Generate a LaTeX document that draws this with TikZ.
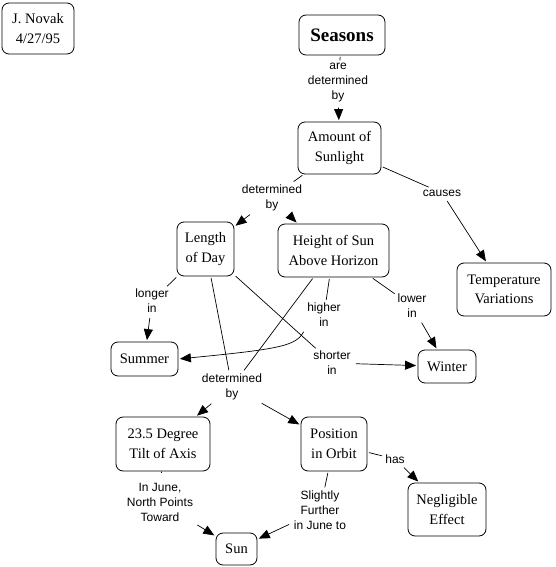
\documentclass[tikz,border=0pt]{standalone}
\usepackage{fontspec}
\setmainfont{Liberation Serif}
\newfontfamily\labfont{Liberation Sans}
\usetikzlibrary{arrows.meta}
\begin{document}
\begin{tikzpicture}[x=1pt,y=-1pt,
 concept/.style={draw, rounded corners=7pt, line width=0.8pt, align=center, inner sep=0pt, font=\fontsize{14.5}{19.5}\selectfont},
 lab/.style={align=center, inner sep=2pt, font=\labfont\fontsize{12}{15}\selectfont},
 link/.style={line width=0.7pt, shorten <=1.5pt, shorten >=1pt},
 arr/.style={line width=0.7pt, -{Triangle[length=11pt,width=9pt]}, shorten <=3pt, shorten >=1.5pt}]
\useasboundingbox (0,0) rectangle (556,567);
% concepts
\node[concept, minimum width=72pt, minimum height=51pt] (novak) at (38,28.5) {J. Novak\\4/27/95};
\node[concept, minimum width=86pt, minimum height=40pt, font=\fontsize{19}{22}\selectfont\bfseries] (seasons) at (342,35) {Seasons};
\node[concept, minimum width=83pt, minimum height=52pt] (amount) at (339.5,148) {Amount of\\Sunlight};
\node[concept, minimum width=57pt, minimum height=54pt] (length) at (205.5,249) {Length\\of Day};
\node[concept, minimum width=111pt, minimum height=53pt] (height) at (333.5,250.5) {Height of Sun\\Above Horizon};
\node[concept, minimum width=94pt, minimum height=53pt] (temp) at (504,289.5) {Temperature\\Variations};
\node[concept, minimum width=67pt, minimum height=34pt] (summer) at (144.5,359) {Summer};
\node[concept, minimum width=58pt, minimum height=33pt] (winter) at (447,366.5) {Winter};
\node[concept, minimum width=94pt, minimum height=54pt] (tilt) at (163,444) {23.5 Degree\\Tilt of Axis};
\node[concept, minimum width=66pt, minimum height=54pt] (orbit) at (334,444) {Position\\in Orbit};
\node[concept, minimum width=78pt, minimum height=53pt] (negl) at (447,509.5) {Negligible\\Effect};
\node[concept, minimum width=41pt, minimum height=32pt] (sun) at (236.5,549) {Sun};
% linking phrases
\node[lab] (lab1) at (338,83) {are\\determined\\by};
\node[lab] (det1) at (272,197.5) {determined\\by};
\node[lab] (causes) at (442,193) {causes};
\node[lab] (longer) at (152,301) {longer\\in};
\node[lab] (higher) at (324,315) {higher\\in};
\node[lab] (lower) at (412,306) {lower\\in};
\node[lab] (shorter) at (332,363) {shorter\\in};
\node[lab] (det2) at (232,386.5) {determined\\by};
\node[lab] (has) at (395,459) {has};
\node[lab] (june) at (160,502) {In June,\\North Points\\Toward};
\node[lab] (slight) at (320,510) {Slightly\\Further\\in June to};
% connectors
\draw[link] (seasons) -- (lab1);
\draw[arr] (lab1) -- (amount);
\draw[link] (amount) -- (det1);
\draw[arr] (det1) -- ([xshift=20pt]height.north west);
\draw[arr] (det1) -- (length);
\draw[link] (amount) -- (causes);
\draw[arr] (causes) -- (temp);
\draw[link] (length) -- (longer);
\draw[arr] (longer) -- (summer);
\draw[link] (length) -- (shorter);
\draw[arr] (shorter) -- (winter);
\draw[link] (length) -- (det2);
\draw[link] (height) -- (det2);
\draw[arr] (det2) -- (tilt);
\draw[arr] (det2) -- (orbit);
\draw[link] (height) -- (higher);
\draw[arr] (higher.south west) .. controls (296,346) and (280,349) .. (summer.east);
\draw[link] (height) -- (lower);
\draw[arr] (lower) -- (winter);
\draw[link] (orbit) -- (has);
\draw[arr] (has) -- (negl);
\draw[link] (orbit) -- (slight);
\draw[arr] (slight) -- (sun);
\draw[link, shorten >=9pt] (tilt) -- (june);
\draw[arr] (june) -- (sun);
\end{tikzpicture}
\end{document}
